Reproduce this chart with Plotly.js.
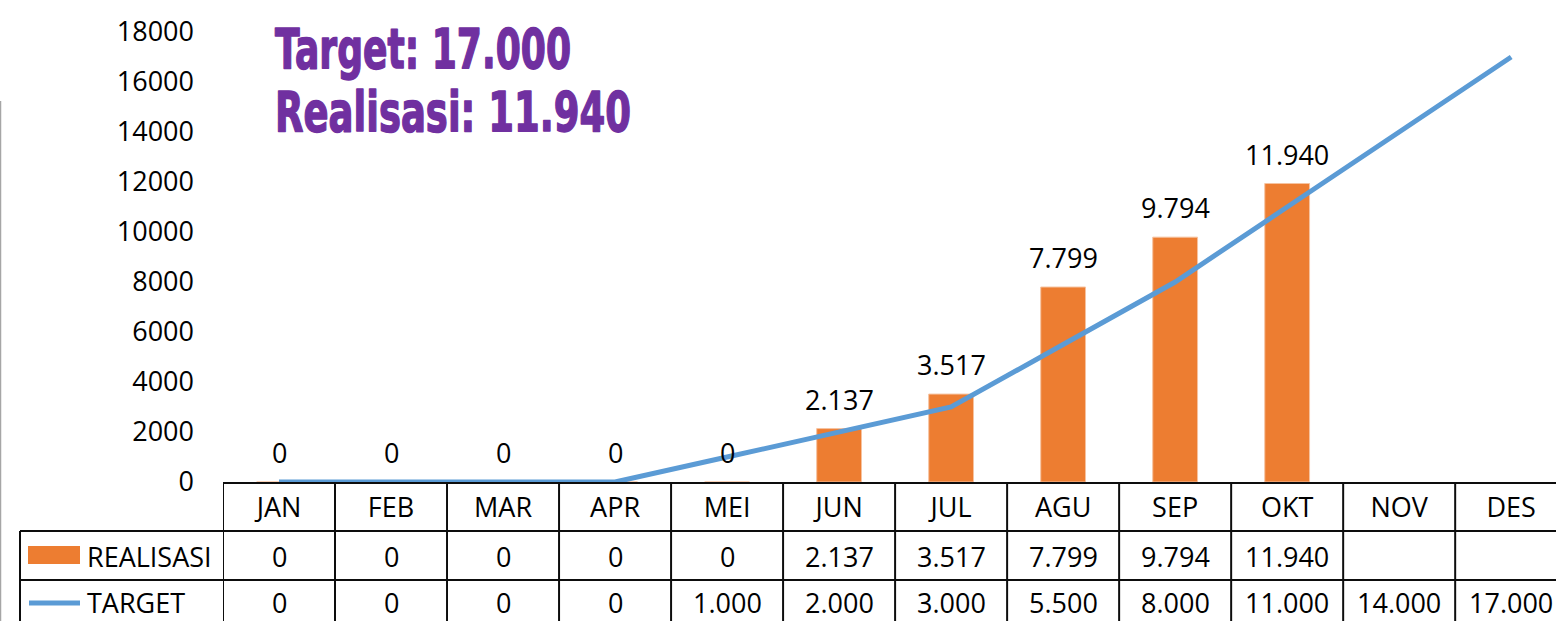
<!DOCTYPE html>
<html>
<head>
<meta charset="utf-8">
<script src="https://cdn.plot.ly/plotly-3.0.1.min.js"></script>
<style>html,body{margin:0;padding:0;background:#fff;}#chart{width:1556px;height:621px;}</style>
</head>
<body>
<div id="chart"></div>
<script>
var categories = ['JAN','FEB','MAR','APR','MEI','JUN','JUL','AGU','SEP','OKT','NOV','DES'];
var realisasi = [0,0,0,0,0,2137,3517,7799,9794,11940,null,null];
var target = [0,0,0,0,1000,2000,3000,5500,8000,11000,14000,17000];
var seriesNames = ['REALISASI','TARGET'];
var titleLines = ['Target: 17.000','Realisasi: 11.940'];

function fmt(v){
  if(v===null||v===undefined) return '';
  return String(v).replace(/\B(?=(\d{3})+(?!\d))/g,'.');
}

var W=1556,H=621,L=223,R=0,T=32,B=139;
var PW=W-L-R, PH=H-T-B;
function px2paperX(px){return (px-L)/PW;}
function px2paperY(py){return (H-B-py)/PH;}

var FONT='"Open Sans", "Noto Sans", sans-serif';
var TFONT='"DejaVu Sans", "Liberation Sans", sans-serif';
var fs=27;
var ORANGE='#ED7D31', BLUE='#5B9BD5', LINEC='#0d0d0d', PURPLE='#7030A0';

var traces=[
  {type:'bar', x:categories, y:realisasi, name:seriesNames[0], width:0.4,
   marker:{color:ORANGE, line:{color:'#F6C3A0', width:1}}, hoverinfo:'skip'},
  {type:'scatter', mode:'lines', x:categories, y:target, name:seriesNames[1],
   line:{color:BLUE, width:5, shape:'linear'}, hoverinfo:'skip', cliponaxis:false}
];

var annotations=[];
realisasi.forEach(function(v,i){
  if(v===null) return;
  annotations.push({x:categories[i], y:v, xref:'x', yref:'y', text:fmt(v), showarrow:false,
    yanchor:'bottom', yshift:9, font:{family:FONT,size:fs,color:'#000'}});
});
var rowY=[556,602];
[realisasi,target].forEach(function(arr,r){
  arr.forEach(function(v,i){
    if(v===null) return;
    annotations.push({x:categories[i], y:px2paperY(rowY[r]), xref:'x', yref:'paper', text:fmt(v),
      showarrow:false, yanchor:'middle', font:{family:FONT,size:fs,color:'#000'}});
  });
  annotations.push({x:px2paperX(85), y:px2paperY(rowY[r]), xref:'paper', yref:'paper', text:seriesNames[r],
    showarrow:false, xanchor:'left', yanchor:'middle', font:{family:FONT,size:fs,color:'#000'}});
});
var tY=[48,111];
var tWidth=[296,356];
titleLines.forEach(function(t,i){
  annotations.push({x:px2paperX(273), y:px2paperY(tY[i]), xref:'paper', yref:'paper', text:'<b>'+t+'</b>',
    showarrow:false, xanchor:'left', yanchor:'middle',
    font:{family:TFONT, size:56, color:PURPLE}});
});

var shapes=[];
var yBot=px2paperY(H+5);
for(var k=0;k<=categories.length-1;k++){
  shapes.push({type:'line', xref:'x', yref:'paper', x0:k-0.5, x1:k-0.5, y0:0, y1:yBot, line:{color:LINEC,width:2}});
}
shapes.push({type:'line', xref:'paper', yref:'paper', x0:px2paperX(20), x1:px2paperX(20), y0:px2paperY(531), y1:yBot, line:{color:LINEC,width:2}});
[531,580].forEach(function(py){
  shapes.push({type:'line', xref:'paper', yref:'paper', x0:px2paperX(20), x1:1, y0:px2paperY(py), y1:px2paperY(py), line:{color:LINEC,width:2}});
});
shapes.push({type:'rect', xref:'paper', yref:'paper', x0:px2paperX(28), x1:px2paperX(80), y0:px2paperY(564), y1:px2paperY(546), fillcolor:ORANGE, line:{width:0}});
shapes.push({type:'line', xref:'paper', yref:'paper', x0:px2paperX(29), x1:px2paperX(80), y0:px2paperY(603), y1:px2paperY(603), line:{color:BLUE,width:5}});
shapes.push({type:'line', xref:'paper', yref:'paper', x0:px2paperX(0.5), x1:px2paperX(0.5), y0:px2paperY(101), y1:yBot, line:{color:'#A6A6A6',width:1.5}});

var layout={
  width:W, height:H, margin:{l:L,r:R,t:T,b:B,pad:0},
  paper_bgcolor:'#fff', plot_bgcolor:'#fff',
  separators:',.',
  showlegend:false,
  font:{family:FONT,size:fs,color:'#000'},
  xaxis:{type:'category', categoryorder:'array', categoryarray:categories, range:[-0.5,11.4],
    showline:true, linecolor:LINEC, linewidth:2, ticks:'', showgrid:false, zeroline:false,
    tickfont:{family:FONT,size:fs,color:'#000'}, ticklabelstandoff:1, fixedrange:true},
  yaxis:{range:[0,18000], dtick:2000, tick0:0, tickformat:'d', showgrid:false, zeroline:false, showline:false,
    ticks:'', tickfont:{family:FONT,size:fs,color:'#000'}, ticklabelstandoff:28, fixedrange:true},
  annotations:annotations, shapes:shapes, bargap:0.6
};

Plotly.newPlot('chart', traces, layout, {staticPlot:true, displayModeBar:false}).then(function(gd){
  // condense + embolden the headline text (Impact-like look), keeping its left edge
  var texts = gd.querySelectorAll('text.annotation-text');
  texts.forEach(function(el){
    var idx = titleLines.indexOf(el.textContent);
    if(idx<0) return;
    var r0 = el.getBoundingClientRect();
    el.setAttribute('textLength', tWidth[idx]);
    el.setAttribute('lengthAdjust', 'spacingAndGlyphs');
    el.style.stroke = PURPLE;
    el.style.strokeWidth = '1.6px';
    el.style.strokeLinejoin = 'round';
    var r1 = el.getBoundingClientRect();
    var dx = r0.left - r1.left;
    var prev = el.getAttribute('transform') || '';
    el.setAttribute('transform', prev + ' translate(' + dx + ',0)');
  });
});
</script>
</body>
</html>
